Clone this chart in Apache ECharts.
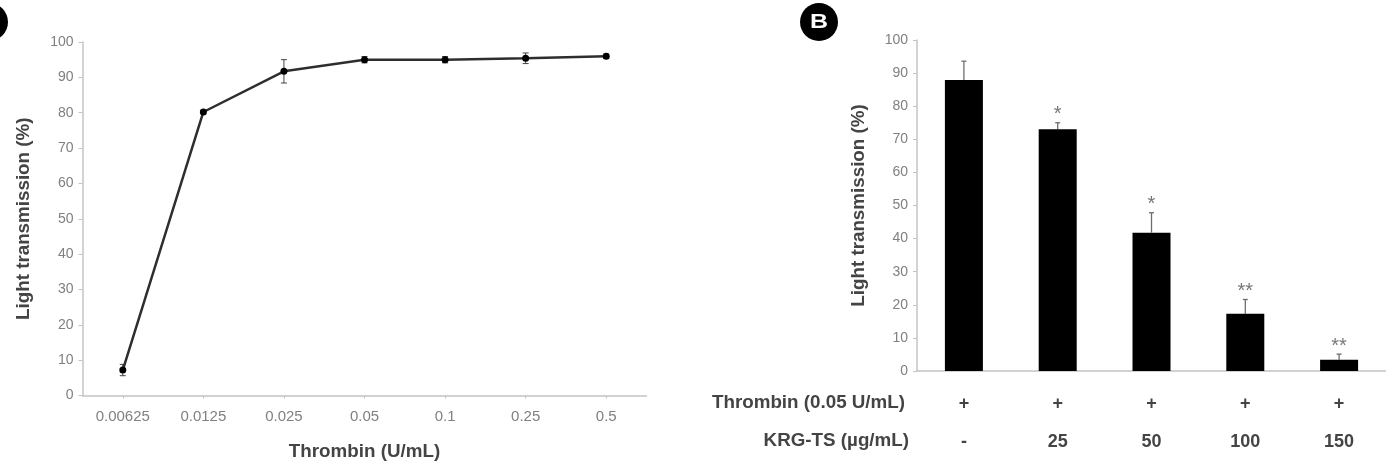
<!DOCTYPE html>
<html>
<head>
<meta charset="utf-8">
<style>html,body{margin:0;padding:0;background:#fff}#chart{width:1386px;height:462px}</style>
<script src="https://cdn.jsdelivr.net/npm/echarts@6/dist/echarts.min.js"></script>
</head>
<body>
<div id="chart"></div>
<script>
// Panel A: dose response to thrombin
const thrombinDoses = ['0.00625', '0.0125', '0.025', '0.05', '0.1', '0.25', '0.5'];
const doseMeans = [7.2, 80.2, 91.7, 95, 95, 95.4, 96];
const doseErrors = [1.6, 0.5, 3.3, 0.9, 0.9, 1.5, 0.6];

// Panel B: inhibition by KRG-TS at a fixed thrombin dose
const thrombinRow = ['+', '+', '+', '+', '+'];
const krgRow = ['-', '25', '50', '100', '150'];
const krgMeans = [87.9, 73, 41.8, 17.3, 3.4];
const krgErrors = [5.7, 2, 6, 4.3, 1.7];
const krgMarks = ['', '*', '*', '**', '**'];

const yTicks = 10;
const FONT = '"Liberation Sans", Arial, sans-serif';
const AXIS_GREY = '#c4c4c4';
const TICK_TEXT = '#808080';
const TITLE_TEXT = '#444';

function yAxisFor(gridIndex, nameGap) {
  return {
    type: 'value', gridIndex, min: 0, max: 100, interval: yTicks,
    name: 'Light transmission (%)', nameLocation: 'middle', nameGap,
    nameTextStyle: { fontFamily: FONT, fontWeight: 'bold', fontSize: 18.8, color: TITLE_TEXT },
    axisLine: { show: true, lineStyle: { color: AXIS_GREY, width: 1.5 } },
    axisTick: { show: true, length: 4, lineStyle: { color: AXIS_GREY, width: 1 } },
    axisLabel: { fontFamily: FONT, fontSize: 14, color: TICK_TEXT, margin: 9 },
    splitLine: { show: false }
  };
}

// Vertical error whisker with a cap; both-sided for A, upper only for B
function whisker(api, params, twoSided, color, capHalf, width, mark) {
  const i = api.value(0);
  const mean = api.value(1);
  const err = api.value(2);
  const top = api.coord([i, mean + err]);
  const bottom = api.coord([i, twoSided ? mean - err : mean]);
  const style = { stroke: color, lineWidth: width, fill: null };
  const children = [
    { type: 'line', shape: { x1: top[0], y1: top[1], x2: bottom[0], y2: bottom[1] }, style },
    { type: 'line', shape: { x1: top[0] - capHalf, y1: top[1], x2: top[0] + capHalf, y2: top[1] }, style }
  ];
  if (twoSided) {
    children.push({ type: 'line', shape: { x1: bottom[0] - capHalf, y1: bottom[1], x2: bottom[0] + capHalf, y2: bottom[1] }, style });
  }
  if (mark) {
    children.push({
      type: 'text',
      style: { x: top[0], y: top[1] - 8, text: mark, align: 'center', verticalAlign: 'middle',
               font: '20px ' + FONT, fill: '#777' }
    });
  }
  return { type: 'group', children };
}

const option = {
  animation: false,
  backgroundColor: '#fff',
  grid: [
    { left: 82.5, top: 42, width: 564, height: 353.5, outerBoundsMode: 'none' },
    { left: 917, top: 40, width: 469, height: 331, outerBoundsMode: 'none' }
  ],
  xAxis: [
    {
      type: 'category', gridIndex: 0, data: thrombinDoses,
      name: 'Thrombin (U/mL)', nameLocation: 'middle', nameGap: 47,
      nameTextStyle: { fontFamily: FONT, fontWeight: 'bold', fontSize: 18.8, color: TITLE_TEXT },
      axisLine: { lineStyle: { color: AXIS_GREY, width: 1.5 } },
      axisTick: { show: true, alignWithLabel: true, length: 3, lineStyle: { color: AXIS_GREY } },
      axisLabel: { fontFamily: FONT, fontSize: 15, color: TICK_TEXT, margin: 14, interval: 0 }
    },
    {
      type: 'category', gridIndex: 1, data: krgRow,
      axisLine: { lineStyle: { color: AXIS_GREY, width: 1.5 } },
      axisTick: { show: false },
      axisLabel: {
        fontFamily: FONT, fontSize: 18, fontWeight: 'bold', color: TITLE_TEXT,
        interval: 0, margin: 14, lineHeight: 38,
        formatter: (value, index) => thrombinRow[index] + '\n' + krgRow[index]
      }
    }
  ],
  yAxis: [yAxisFor(0, 49), yAxisFor(1, 49)],
  graphic: [
    { type: 'circle', shape: { cx: -11, cy: 22, r: 19 }, style: { fill: '#000' } },
    { type: 'circle', shape: { cx: 819, cy: 22, r: 19 }, style: { fill: '#000' } },
    { type: 'text', x: 819, y: 22, scaleX: 1.25, style: { text: 'B', font: 'bold 20px "Liberation Sans", sans-serif', fill: '#fff', align: 'center', verticalAlign: 'middle' } },
    { type: 'text', x: 905, y: 403, style: { text: 'Thrombin (0.05 U/mL)', font: 'bold 18.8px ' + FONT, fill: TITLE_TEXT, align: 'right', verticalAlign: 'middle' } },
    { type: 'text', x: 909, y: 441, style: { text: 'KRG-TS (µg/mL)', font: 'bold 18.8px ' + FONT, fill: TITLE_TEXT, align: 'right', verticalAlign: 'middle' } }
  ],
  series: [
    {
      type: 'custom', xAxisIndex: 0, yAxisIndex: 0, z: 2, silent: true,
      data: doseMeans.map((m, i) => [i, m, doseErrors[i]]),
      renderItem: (params, api) => whisker(api, params, true, '#444', 3, 1),
      encode: { x: 0, y: 1 }
    },
    {
      type: 'line', xAxisIndex: 0, yAxisIndex: 0, z: 3, silent: true,
      data: doseMeans, symbol: 'circle', symbolSize: 7,
      lineStyle: { color: '#2e2e2e', width: 2.5 },
      itemStyle: { color: '#000' }
    },
    {
      type: 'bar', xAxisIndex: 1, yAxisIndex: 1, z: 3, silent: true,
      data: krgMeans, barWidth: 38,
      itemStyle: { color: '#000' }
    },
    {
      type: 'custom', xAxisIndex: 1, yAxisIndex: 1, z: 2, silent: true,
      data: krgMeans.map((m, i) => [i, m, krgErrors[i]]),
      renderItem: (params, api) => whisker(api, params, false, '#6e6e6e', 2.5, 1.3, krgMarks[params.dataIndex]),
      encode: { x: 0, y: 1 }
    }
  ]
};

const chart = echarts.init(document.getElementById('chart'), null, { renderer: 'canvas' });
chart.setOption(option);
</script>
</body>
</html>
